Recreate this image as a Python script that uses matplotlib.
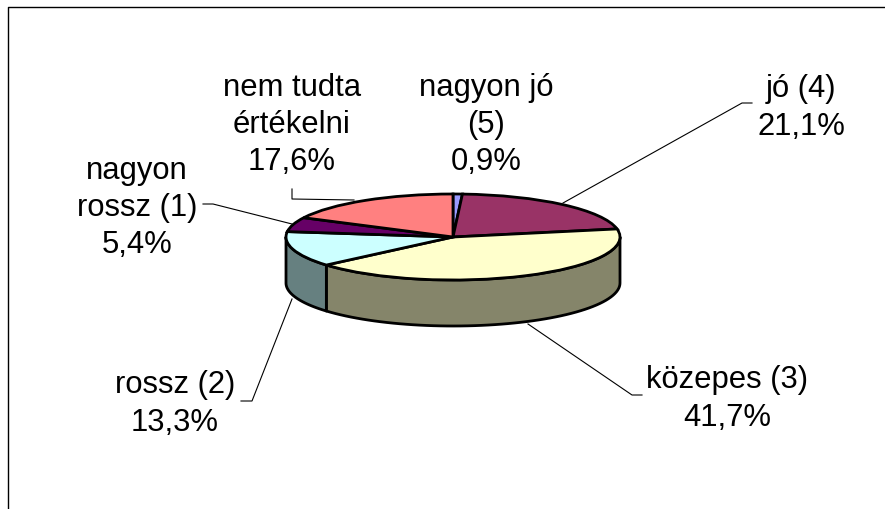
import matplotlib
matplotlib.use('Agg')
import matplotlib.pyplot as plt
import numpy as np

plt.rcParams['font.family'] = ['Liberation Sans', 'DejaVu Sans']

# clockwise from the top
labels = ['nagyon jó\n(5)\n0,9%', 'jó (4)\n21,1%', 'közepes (3)\n41,7%', 'rossz (2)\n13,3%',
          'nagyon\nrossz (1)\n5,4%', 'nem tudta\nértékelni\n17,6%']
values = [0.9, 21.1, 41.7, 13.3, 5.4, 17.6]
top_colors = ['#9999FF', '#993366', '#FFFFCC', '#CCFFFF', '#660066', '#FF8080']
side_colors = ['#6B6BB3', '#6B2447', '#85856A', '#668080', '#470047', '#B35A5A']

W, H = 885, 510
cx, cy, rx, ry, depth = 453, 238, 167, 43, 46
fs = 22.3

fig = plt.figure(figsize=(W / 100, H / 100), dpi=100)

# whole figure in pixel coords for frame, labels and leader lines
bg = fig.add_axes([0, 0, 1, 1])
bg.set_xlim(0, W)
bg.set_ylim(H, 0)
bg.axis('off')

# frame only shows on the left and top
bg.plot([8, 8, 885], [510, 7.5, 7.5], color='black', lw=1)

# leader lines
leaders = [
    ([752, 742, 563], [104, 104, 204]),
    ([528, 632, 642], [325, 396, 396]),
    ([241, 252, 292], [402, 402, 300]),
    ([203, 213, 292], [205, 205, 225]),
    ([292, 292, 354], [190, 200, 201]),
]
for lx, ly in leaders:
    bg.plot(lx, ly, color='black', lw=0.8)

# pie axes, stretched so the circle becomes an ellipse
ax = fig.add_axes([(cx - 1.25 * rx) / W, 1 - (cy + 1.25 * ry) / H, 2.5 * rx / W, 2.5 * ry / H])
ax.patch.set_alpha(0)

# walls first, then the top surface
drop = depth / ry
angle = 90.0
for val, col in zip(values, side_colors):
    a2 = angle - val * 3.6
    # only the front part of the rim is visible
    lo, hi = max(a2, -180), min(angle, 0)
    if lo < hi:
        t = np.radians(np.linspace(lo, hi, 60))
        xs = np.r_[np.cos(t), np.cos(t)[::-1]]
        ys = np.r_[np.sin(t), np.sin(t)[::-1] - drop]
        ax.fill(xs, ys, facecolor=col, edgecolor='black', lw=2, clip_on=False, joinstyle='round')
    angle = a2

ax.pie(values, colors=top_colors, startangle=90, counterclock=False, radius=1,
       wedgeprops={'edgecolor': 'black', 'linewidth': 2, 'clip_on': False})
ax.set_aspect('auto')
ax.set_xlim(-1.25, 1.25)
ax.set_ylim(-1.25, 1.25)
ax.axis('off')

# label centres
label_x = [486, 801, 727, 175, 137, 292]
label_y = [125, 108, 399, 404, 208, 125]
for txt, x, y in zip(labels, label_x, label_y):
    bg.text(x, y, txt, ha='center', va='center', fontsize=fs, color='black', linespacing=1.32)

fig.savefig('out.png', dpi=100)
